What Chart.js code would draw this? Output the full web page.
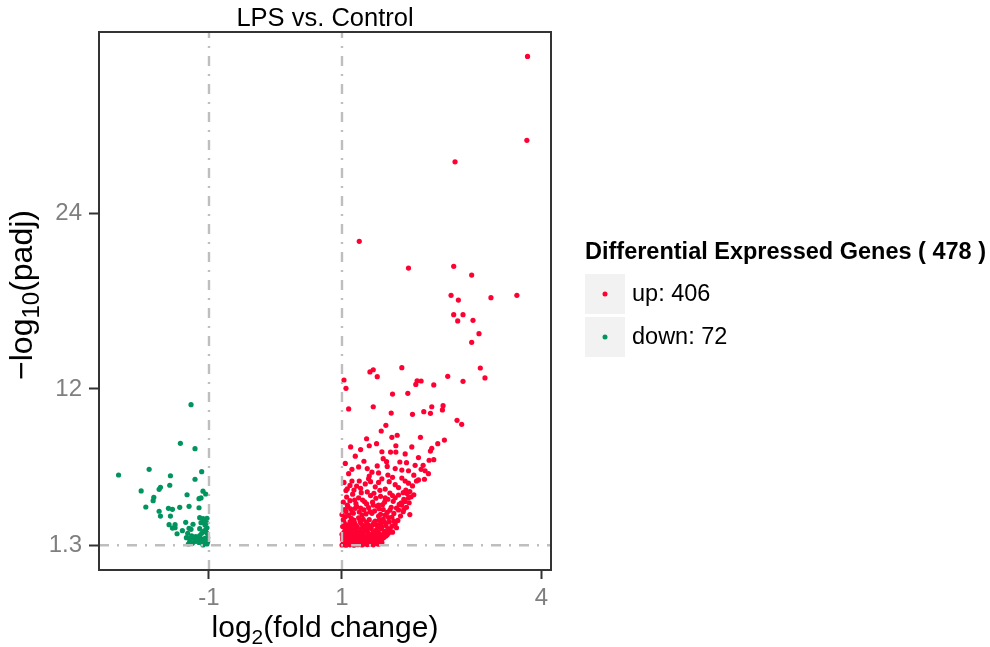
<!DOCTYPE html>
<html lang="en">
<head>
<meta charset="UTF-8">
<title>LPS vs. Control</title>
<script src="https://cdn.jsdelivr.net/npm/chart.js"></script>
<style>
    html, body { margin: 0; padding: 0; background: #ffffff; }
    #wrap { width: 990px; height: 647px; }
</style>
</head>
<body>
<div id="wrap"><canvas id="volcano" width="990" height="647"></canvas></div>
<script>
    const chartTitle = 'LPS vs. Control';
    const legendTitle = 'Differential Expressed Genes ( 478 )';
    const legendLabels = ['up: 406', 'down: 72'];
    const xTicks = [-1, 1, 4];
    const yTicks = [1.3, 12, 24];
    const xRange = [-2.654, 4.143];
    const yRange = [-0.39, 36.42];
    const foldCutoffs = [-1, 1];
    const padjCutoff = 1.3;

    // [log2FC, -log10(padj)]
    const upGenes = [
        [3.79,34.75],[3.78,29.01],[2.70,27.54],[1.26,22.10],[2.00,20.27],[2.68,20.39],[2.95,19.79],
        [2.64,18.40],[2.75,18.08],[3.24,18.24],[3.63,18.40],[2.68,17.08],[2.82,17.08],[2.74,16.65],
        [2.97,16.69],[3.06,15.78],[2.95,15.19],[3.08,13.43],[3.15,12.75],
        [1.42,13.16],[1.47,13.31],[1.53,12.84],[1.90,13.45],[1.03,12.61],[1.06,12.04],[2.13,12.56],
        [2.19,12.54],[2.11,12.31],[2.38,12.27],[2.59,12.86],[2.82,12.52],[1.76,11.65],[1.99,11.70],
        [1.10,10.63],[1.47,10.78],[1.74,10.35],[2.06,10.26],[2.23,10.44],[2.33,10.33],[2.35,10.78],
        [2.52,10.85],[2.51,10.56],[2.73,9.85],[2.80,9.58],[1.66,9.51],[1.59,9.12],[1.37,8.59],
        [1.75,8.69],[1.83,8.83],[2.18,8.69],[2.54,8.50],
        [1.13,8.03],[1.41,8.11],[1.52,8.25],[1.81,8.11],[2.05,8.03],[2.44,8.25],[2.35,7.94],
        [1.73,7.68],[1.81,7.68],[2.33,7.75],[2.38,7.16],[2.31,7.12],[1.62,7.23],[1.67,7.02],
        [1.87,7.00],[1.97,6.95],[2.22,6.77],[2.19,6.50],[1.15,6.50],[1.25,6.66],[1.53,6.73],
        [1.68,6.70],[2.10,6.77],[2.30,6.20],[2.24,5.82],[2.15,5.77],[2.12,5.70],[1.69,6.11],
        [1.41,6.04],[1.26,5.70],[1.15,5.70],[1.71,5.65],[1.43,5.65],[2.06,5.36],[1.96,5.08],
        [1.92,4.90],[2.08,4.76],[2.01,4.21],[1.08,5.17],[1.18,5.08],[1.29,4.90],[1.38,4.95],
        [1.48,4.86],[1.57,5.06],[1.72,4.88],[1.85,4.74],[1.51,4.52],[1.65,4.54],[1.77,4.31],
        [1.89,4.21],[1.37,4.13],[1.61,4.08],[1.74,3.90],[1.85,3.72],[1.20,3.83],[1.09,3.94],
        [1.05,3.26],[1.45,3.49],[1.55,3.30],[1.65,3.37],[1.75,3.22],[1.30,3.37],
        [1.05,6.90],[1.20,7.40],[1.33,7.05],[1.45,6.30],[1.90,6.45],[2.25,6.40],
        [1.03,5.60],[1.22,5.35],[1.35,5.50],[1.50,5.30],[1.60,5.85],[1.80,5.45],[1.90,5.90],[2.00,5.55],
        [1.06,5.05],[1.12,5.40],[1.28,5.20],[1.40,5.85],[1.55,5.60],[1.65,5.15],[1.76,5.95],[1.85,5.25],
        [1.95,5.70],[2.08,6.10],[1.10,6.20],[1.38,6.55],[1.55,6.25],[1.80,6.55],[2.00,6.40],[1.28,7.85],
        [1.60,7.70],[1.95,7.55],[2.15,7.30],
        [1.02,4.25],[1.07,4.60],[1.12,4.35],[1.16,4.80],[1.21,4.15],[1.25,4.55],[1.31,4.40],[1.43,4.70],
        [1.46,4.25],[1.55,4.05],[1.58,4.65],[1.69,4.45],[1.80,4.55],[1.93,4.45],[1.98,4.85],[1.90,4.05],
        [1.95,4.30],[2.04,4.62],[2.02,4.98],
        [1.04,3.75],[1.08,4.05],[1.15,3.55],[1.19,4.40],[1.28,3.85],[1.34,4.28],[1.42,3.60],[1.47,4.05],
        [1.56,3.80],[1.64,4.25],[1.72,3.70],[1.76,4.70],[1.86,4.10],[1.93,3.75],[2.00,4.55],
        [1.00,3.40],[1.06,3.62],[1.10,3.35],[1.13,3.80],[1.17,3.50],[1.22,3.95],[1.26,3.58],[1.33,3.72],
        [1.36,3.45],[1.40,3.88],[1.49,3.65],[1.53,3.98],[1.58,3.42],[1.62,3.75],[1.68,3.55],[1.78,3.48],
        [1.82,3.85],[1.88,3.30],[1.92,3.60],[1.97,3.90],[2.02,3.40],[1.70,3.20],
        [1.01,2.58],[1.04,2.75],[1.08,2.62],[1.12,2.90],[1.16,2.68],[1.19,2.82],[1.23,2.55],[1.27,2.98],
        [1.30,2.72],[1.34,2.60],[1.37,2.88],[1.41,3.05],[1.46,2.70],[1.50,2.95],[1.54,2.57],[1.58,2.80],
        [1.62,3.10],[1.66,2.65],[1.71,2.90],[1.75,2.60],[1.80,2.78],[1.84,3.00],[1.02,3.05],[1.14,3.15],
        [1.25,3.18],
        [1.03,2.88],[1.06,2.55],[1.10,2.70],[1.14,2.45],[1.18,3.02],[1.21,2.66],[1.28,2.85],[1.32,3.08],
        [1.35,2.52],[1.39,2.70],[1.43,2.58],[1.48,2.85],[1.52,2.68],[1.56,3.02],[1.60,2.55],[1.64,2.88],
        [1.69,2.45],[1.78,2.95],[1.82,2.50],
        [1.00,2.05],[1.03,2.18],[1.07,2.10],[1.11,2.27],[1.15,2.12],[1.18,2.35],[1.22,2.08],[1.25,2.22],
        [1.29,2.40],[1.32,2.15],[1.36,2.30],[1.40,2.06],[1.44,2.45],[1.47,2.20],[1.51,2.33],[1.55,2.11],
        [1.59,2.42],[1.64,2.25],[1.68,2.03],[1.72,2.38],[1.05,2.42],[1.09,2.48],[1.21,2.47],[1.38,2.49],
        [1.76,2.20],
        [1.01,1.82],[1.05,2.30],[1.09,1.92],[1.12,2.05],[1.16,1.88],[1.21,2.20],[1.24,1.96],[1.27,2.12],
        [1.31,2.30],[1.34,1.86],[1.39,2.18],[1.42,1.92],[1.46,2.10],[1.50,1.98],[1.54,2.24],[1.57,1.85],
        [1.62,2.06],[1.66,1.93],[1.70,2.15],
        [1.01,1.68],[1.04,1.75],[1.08,1.66],[1.10,1.83],[1.13,1.71],[1.17,1.78],[1.19,1.92],[1.23,1.69],
        [1.26,1.85],[1.31,1.74],[1.35,1.90],[1.39,1.80],[1.43,1.70],[1.48,1.88],[1.53,1.77],[1.58,1.95],
        [1.63,1.84],[1.02,1.95],[1.06,1.88],[1.14,1.98],[1.28,1.97],[1.44,1.99],[1.60,1.70],
        [1.00,1.32],[1.03,1.35],[1.06,1.31],[1.09,1.38],[1.12,1.33],[1.15,1.36],[1.18,1.31],[1.21,1.40],
        [1.24,1.34],[1.27,1.37],[1.30,1.32],[1.34,1.41],[1.38,1.35],[1.42,1.39],[1.47,1.33],[1.52,1.42],
        [1.02,1.47],[1.07,1.52],[1.11,1.45],[1.16,1.55],[1.20,1.49],[1.25,1.58],[1.29,1.46],[1.33,1.53],
        [1.37,1.60],[1.41,1.50],[1.45,1.57],[1.50,1.62],[1.56,1.51],
        [1.04,1.42],[1.08,1.58],[1.13,1.62],[1.19,1.44],[1.23,1.52],[1.28,1.63],[1.32,1.39],[1.36,1.47],
        [1.40,1.66],[1.46,1.44],[1.51,1.55],[1.55,1.38],[1.60,1.49]
    ];

    const downGenes = [
        [-1.27,10.92],[-1.43,8.28],[-1.21,7.91],[-2.36,6.11],[-1.90,6.50],[-1.58,6.06],[-1.11,6.34],
        [-1.21,5.82],[-1.59,5.41],[-1.73,5.27],[-1.75,5.13],[-2.02,5.02],[-1.09,5.00],[-1.05,4.81],
        [-1.83,4.58],[-1.84,4.35],[-1.33,4.76],[-1.12,4.54],[-1.15,4.49],[-1.95,3.92],[-1.61,3.83],
        [-1.55,3.76],[-1.44,3.90],[-1.30,3.97],[-1.15,3.87],[-1.75,3.63],[-1.73,3.30],[-1.58,3.30],
        [-1.14,3.19],[-1.09,3.12],[-1.03,3.15],[-1.35,2.87],[-1.12,2.85],[-1.06,2.69],[-1.60,2.71],
        [-1.51,2.71],[-1.55,2.48],[-1.51,2.50],[-1.30,2.46],[-1.27,2.39],[-1.14,2.44],[-1.03,2.50],
        [-1.48,2.09],[-1.32,2.12],[-1.11,2.12],[-1.03,2.12],[-1.34,1.82],[-1.29,1.78],[-1.20,1.89],
        [-1.15,1.82],[-1.11,1.73],[-1.06,1.78],[-1.02,1.82],[-1.29,1.55],[-1.25,1.44],[-1.20,1.57],
        [-1.15,1.50],[-1.11,1.55],[-1.06,1.50],[-1.02,1.55],[-1.22,1.73],[-1.14,1.96],[-1.08,2.92],
        [-1.04,2.85],[-1.24,2.74],[-1.05,2.35],[-1.09,1.32],[-1.31,1.39],[-1.03,1.39],[-1.18,1.62],
        [-1.08,2.25],[-1.40,2.30],[-1.04,1.66],[-1.26,1.95]
    ];

    const FONT = "'Liberation Sans', Arial, Helvetica, sans-serif";

    // texte avec indice (log2, log10)
    function drawRich(ctx, parts, size, subScale) {
        const widths = parts.map(p => {
            ctx.font = (p[1] ? size * subScale : size) + 'px ' + FONT;
            return ctx.measureText(p[0]).width;
        });
        const total = widths.reduce((a, b) => a + b, 0);
        let x = -total / 2;
        parts.forEach((p, i) => {
            ctx.font = (p[1] ? size * subScale : size) + 'px ' + FONT;
            ctx.fillText(p[0], x, p[1] ? size * 0.22 : 0);
            x += widths[i];
        });
    }

    const volcanoDecor = {
        id: 'volcanoDecor',
        afterDatasetsDraw(chart) {
            const ctx = chart.ctx;
            const area = chart.chartArea;
            const xs = chart.scales.x, ys = chart.scales.y;
            ctx.save();
            ctx.strokeStyle = '#BEBEBE';
            ctx.lineWidth = 2.4;
            ctx.setLineDash([10, 8, 2, 8]);
            foldCutoffs.forEach(v => {
                const px = xs.getPixelForValue(v);
                ctx.beginPath();
                ctx.moveTo(px, area.bottom);
                ctx.lineTo(px, area.top);
                ctx.stroke();
            });
            const py = ys.getPixelForValue(padjCutoff);
            ctx.beginPath();
            ctx.moveTo(area.left, py);
            ctx.lineTo(area.right, py);
            ctx.stroke();
            ctx.setLineDash([]);
            ctx.strokeStyle = '#333333';
            ctx.lineWidth = 2;
            ctx.strokeRect(area.left, area.top, area.right - area.left, area.bottom - area.top);
            ctx.restore();
        },
        afterDraw(chart) {
            const ctx = chart.ctx;
            const area = chart.chartArea;
            const cx = (area.left + area.right) / 2;
            const cy = (area.top + area.bottom) / 2;
            ctx.save();
            ctx.fillStyle = '#000000';
            ctx.textBaseline = 'alphabetic';
            ctx.textAlign = 'center';
            ctx.font = '25.5px ' + FONT;
            ctx.fillText(chartTitle, cx, area.top - 6);

            ctx.textAlign = 'left';
            ctx.save();
            ctx.translate(cx, area.bottom + 67);
            drawRich(ctx, [['log', false], ['2', true], ['(fold change)', false]], 30, 0.7);
            ctx.restore();

            ctx.save();
            ctx.translate(area.left - 67, cy - 6);
            ctx.rotate(-Math.PI / 2);
            drawRich(ctx, [['\u2212log', false], ['10', true], ['(padj)', false]], 32, 0.75);
            ctx.restore();

            // légende
            const lx = area.right + 34;
            ctx.font = 'bold 23.5px ' + FONT;
            ctx.textBaseline = 'middle';
            ctx.fillText(legendTitle, lx, 253);
            const colors = ['#FF0033', '#00945E'];
            legendLabels.forEach((lab, i) => {
                const top = 274 + i * 43;
                ctx.fillStyle = '#F2F2F2';
                ctx.fillRect(lx, top, 40, 40);
                ctx.fillStyle = colors[i];
                ctx.beginPath();
                ctx.arc(lx + 20, top + 20, 2.5, 0, Math.PI * 2);
                ctx.fill();
                ctx.fillStyle = '#000000';
                ctx.font = '23.5px ' + FONT;
                ctx.fillText(lab, lx + 47, top + 21);
            });
            ctx.restore();
        }
    };

    const ctx = document.getElementById('volcano').getContext('2d');
    new Chart(ctx, {
        type: 'scatter',
        data: {
            datasets: [
                {
                    label: 'up',
                    data: upGenes.map(([x, y]) => ({ x, y })),
                    backgroundColor: '#FF0033',
                    pointRadius: 2.6,
                    pointBorderWidth: 0,
                    pointHoverRadius: 2.6
                },
                {
                    label: 'down',
                    data: downGenes.map(([x, y]) => ({ x, y })),
                    backgroundColor: '#00945E',
                    pointRadius: 2.6,
                    pointBorderWidth: 0,
                    pointHoverRadius: 2.6
                }
            ]
        },
        options: {
            responsive: false,
            animation: false,
            layout: { padding: { left: 0, top: 32, right: 439, bottom: 0 } },
            plugins: {
                legend: { display: false },
                title: { display: false },
                tooltip: { enabled: false }
            },
            scales: {
                x: {
                    type: 'linear',
                    min: xRange[0],
                    max: xRange[1],
                    border: { display: false },
                    grid: { drawOnChartArea: false, drawTicks: true, tickLength: 9, tickColor: '#333333', tickWidth: 2 },
                    ticks: { color: '#7F7F7F', font: { family: FONT, size: 24 }, padding: 5, callback: v => String(v) },
                    afterBuildTicks: s => { s.ticks = xTicks.map(v => ({ value: v })); },
                    afterFit: s => { s.height = 77; }
                },
                y: {
                    type: 'linear',
                    min: yRange[0],
                    max: yRange[1],
                    border: { display: false },
                    grid: { drawOnChartArea: false, drawTicks: true, tickLength: 10, tickColor: '#333333', tickWidth: 2 },
                    ticks: { color: '#7F7F7F', font: { family: FONT, size: 24 }, padding: 7, callback: v => String(v) },
                    afterBuildTicks: s => { s.ticks = yTicks.map(v => ({ value: v })); },
                    afterFit: s => { s.width = 99; }
                }
            }
        },
        plugins: [volcanoDecor]
    });
</script>
</body>
</html>
